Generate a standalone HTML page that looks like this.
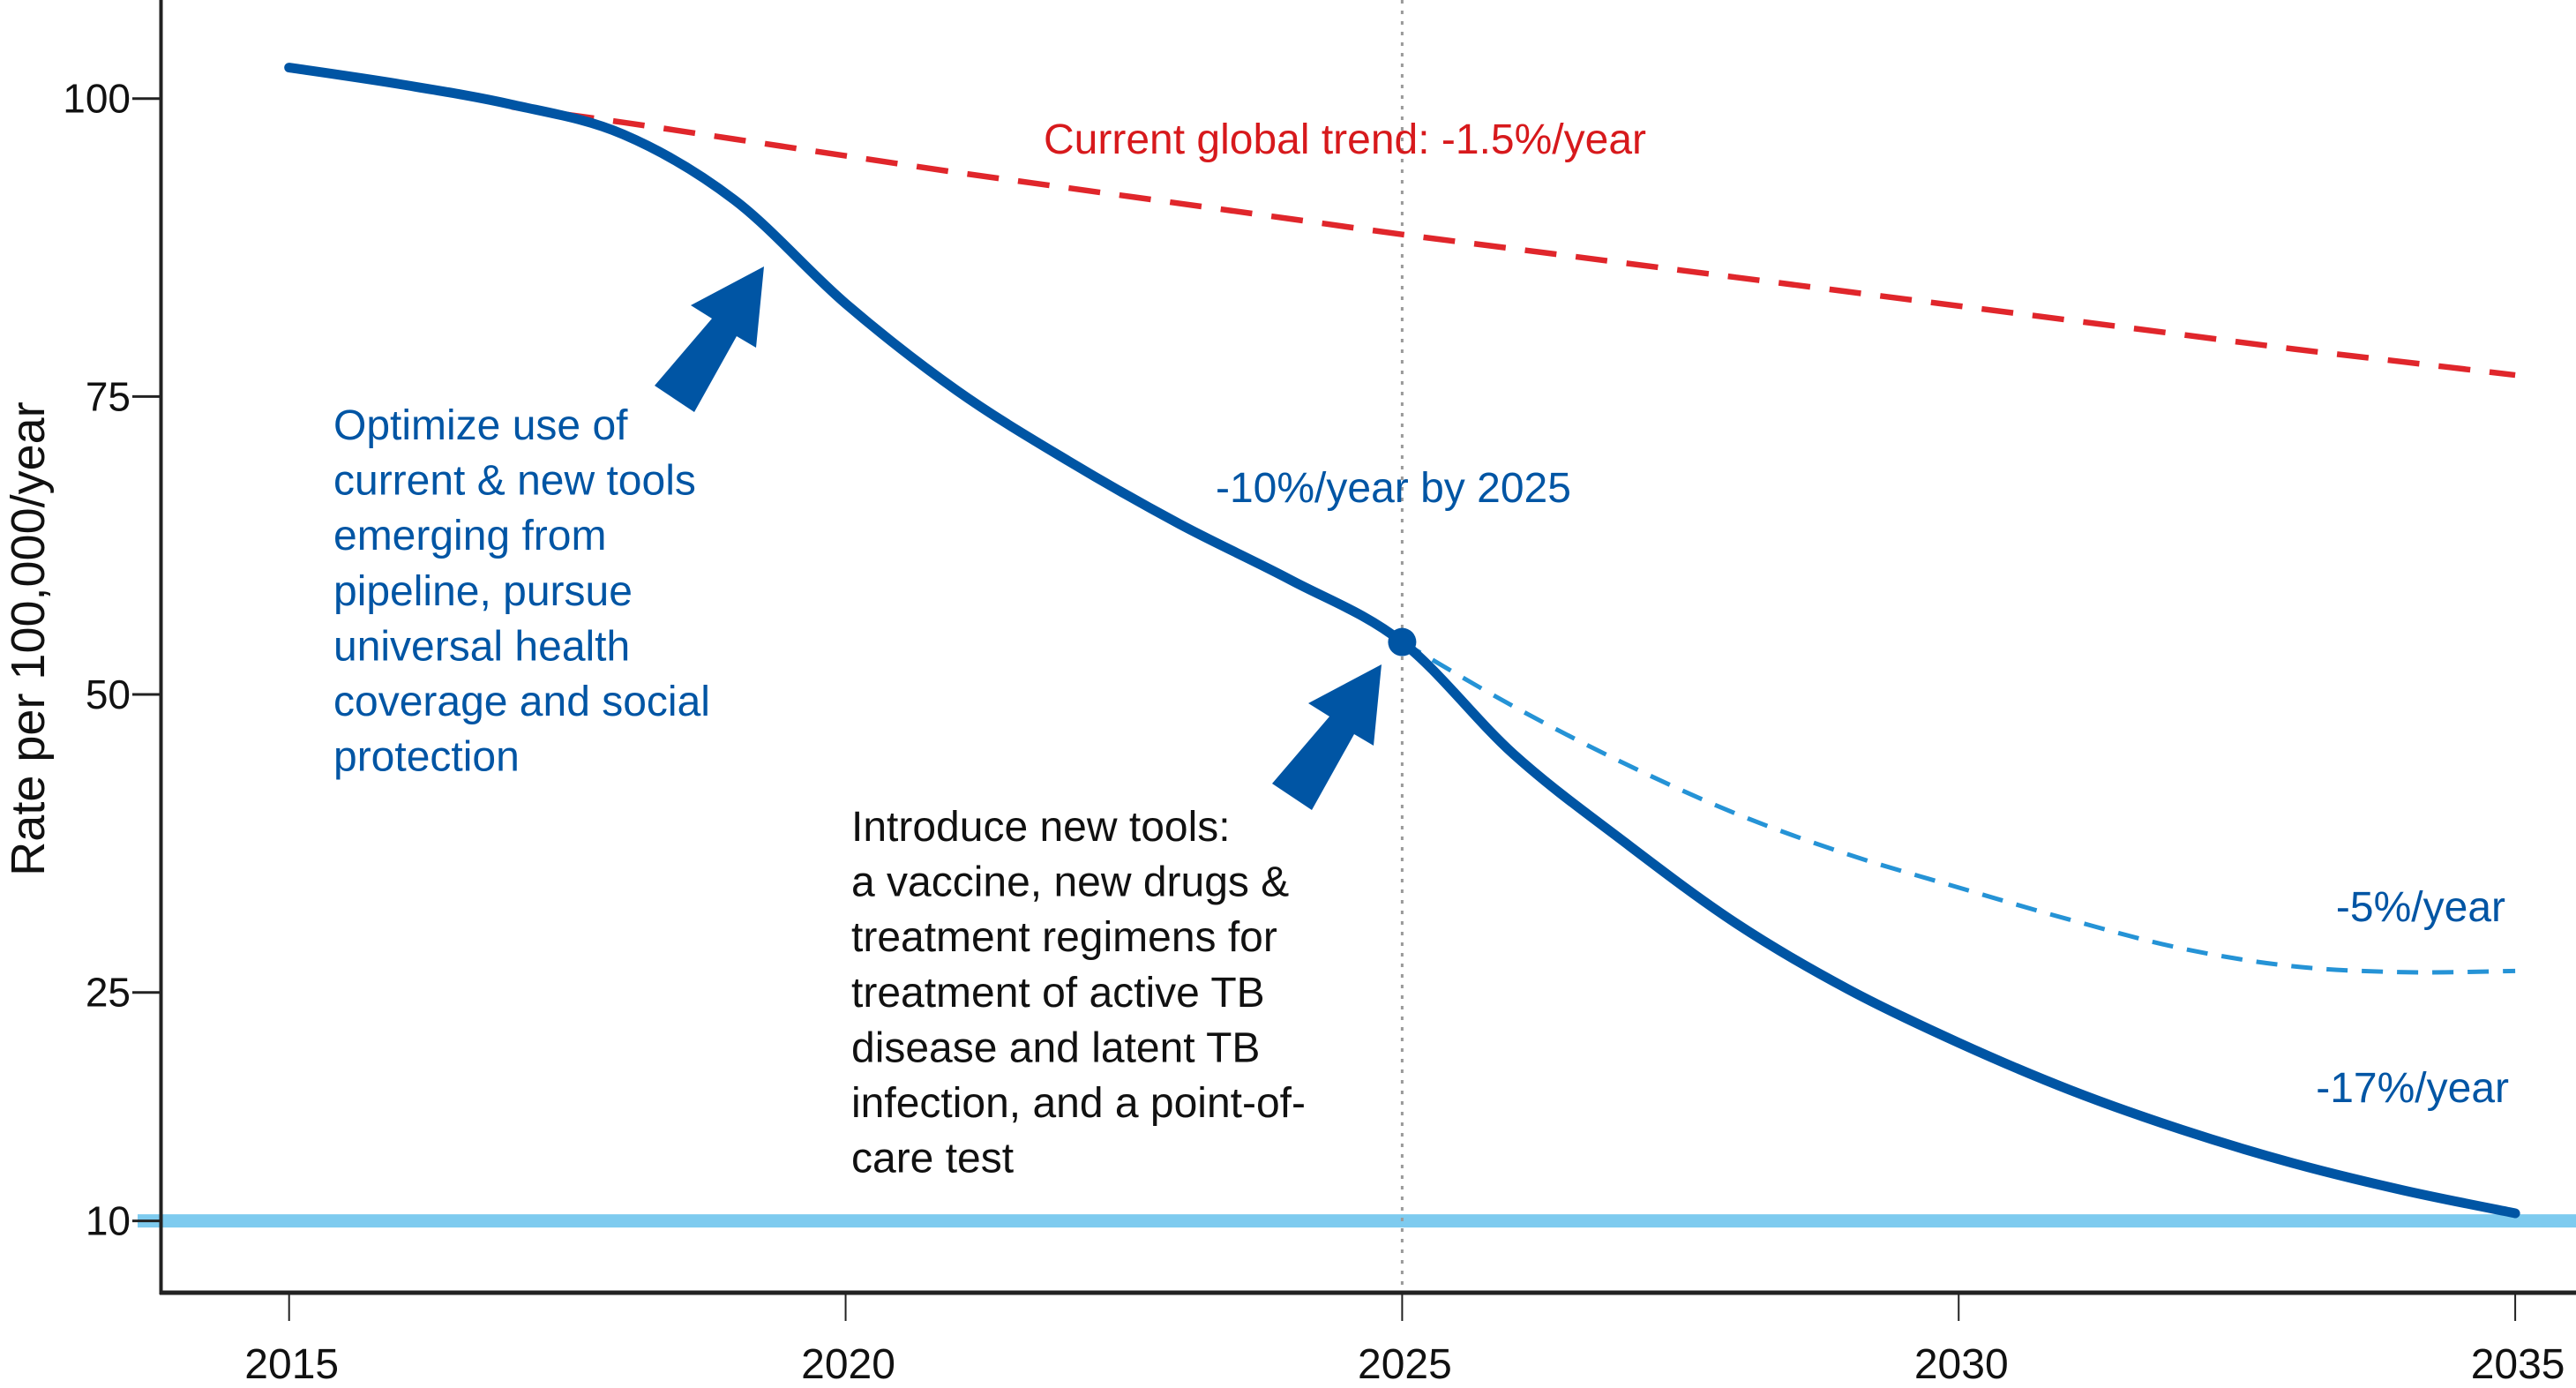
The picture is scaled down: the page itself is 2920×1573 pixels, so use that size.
<!DOCTYPE html>
<html><head><meta charset="utf-8"><style>
html,body{margin:0;padding:0;background:#fff;}
svg{display:block;font-family:"Liberation Sans",Arial,sans-serif;}
</style></head><body>
<svg id="chart" width="2920" height="1573" viewBox="0 0 2920 1573" xmlns="http://www.w3.org/2000/svg">
<g id="g"></g>
</svg>
<script>
const years = [2015,2016,2017,2018,2019,2020,2021,2022,2023,2024,2025,2026,2027,2028,2029,2030,2031,2032,2033,2034,2035];
const targetPath = [102.6,101.2,99.5,97.0,91.5,82.8,75.5,69.6,64.3,59.6,54.4,45.0,37.6,30.8,25.3,21.7,18.6,16.0,13.8,12.0,10.5];
const trendYears = [2017,2018,2019,2020,2021,2022,2023,2024,2025,2026,2027,2028,2029,2030,2031,2032,2033,2034,2035];
const trendValues = [99.3,98.0,96.6,95.2,93.8,92.5,91.2,89.9,88.6,87.4,86.2,85.0,83.8,82.6,81.4,80.2,79.0,77.9,76.8];
const slowYears = [2025,2026,2027,2028,2029,2030,2031,2032,2033,2034,2035];
const slowValues = [54.4,49,44.2,40,36.6,33.8,31.1,28.7,27.2,26.7,26.8];
const yTicks = [100,75,50,25,10];
const xTicks = [2015,2020,2025,2030,2035];
const milestoneYear = 2025, milestoneValue = 54.4, targetLevel = 10;

const NS="http://www.w3.org/2000/svg";
const g=document.getElementById('g');
function x(yr){return 327.7+(yr-2015)*126.17;}
function y(v){ if(v>=25) return 111.7+(100-v)*13.507; return 1383.6-(v-10)*(1383.6-1124.8)/15; }
function el(tag,attrs,parent){const e=document.createElementNS(NS,tag);for(const k in attrs)e.setAttribute(k,attrs[k]);(parent||g).appendChild(e);return e;}
function smooth(xs,vs){const p=xs.map((a,i)=>[x(a),y(vs[i])]);let d='M'+p[0][0]+','+p[0][1];
 for(let i=0;i<p.length-1;i++){const p0=p[i-1]||p[i],p1=p[i],p2=p[i+1],p3=p[i+2]||p2;
 d+=' C'+(p1[0]+(p2[0]-p0[0])/6)+','+(p1[1]+(p2[1]-p0[1])/6)+' '+(p2[0]-(p3[0]-p1[0])/6)+','+(p2[1]-(p3[1]-p1[1])/6)+' '+p2[0]+','+p2[1];}return d;}

let e=el('line',{x1:156,x2:2920,y1:y(targetLevel),y2:y(targetLevel),stroke:'#7ecbef','stroke-width':15});


e=el('line',{x1:x(milestoneYear),x2:x(milestoneYear),y1:0,y2:1465,stroke:'#9a9a9a','stroke-width':3,'stroke-dasharray':'4,8'});


e=el('line',{x1:182.5,x2:182.5,y1:0,y2:1467,stroke:'#222','stroke-width':4});


e=el('line',{x1:181,x2:2920,y1:1465,y2:1465,stroke:'#222','stroke-width':5});


yTicks.forEach(v=>{
 const t=el('line',{x1:150,x2:182,y1:y(v),y2:y(v),stroke:'#222','stroke-width':3});
 
 
 const l=el('text',{x:148,y:y(v)+16,'text-anchor':'end','font-size':46,fill:'#111'});l.textContent=v;
 
 
});
xTicks.forEach(v=>{
 const t=el('line',{x1:x(v),x2:x(v),y1:1465,y2:1497,stroke:'#222','stroke-width':2});
 
 
 const l=el('text',{x:x(v)+3,y:1562,'text-anchor':'middle','font-size':48,fill:'#111'});l.textContent=v;
 
 
});
e=el('text',{x:0,y:0,transform:'translate(50,724) rotate(-90)','text-anchor':'middle','font-size':54,fill:'#111'});e.textContent='Rate per 100,000/year';



e=el('path',{d:smooth(trendYears,trendValues),fill:'none',stroke:'#e0262b','stroke-width':6.5,'stroke-dasharray':'36,22'});


e=el('path',{d:smooth(slowYears,slowValues),fill:'none',stroke:'#2593d6','stroke-width':5,'stroke-dasharray':'24,16'});


e=el('path',{d:smooth(years,targetPath),fill:'none',stroke:'#0055a4','stroke-width':11,'stroke-linecap':'round'});


e=el('circle',{cx:x(milestoneYear),cy:y(milestoneValue),r:16,fill:'#0055a4'});



function arrow(tx,ty,name){const rel=[[0,0],[-9,92],[-31,79],[-79,165],[-124,135],[-59,59],[-83,44]];
 const a=el('polygon',{points:rel.map(p=>(tx+p[0])+','+(ty+p[1])).join(' '),fill:'#0055a4'});
 
 }
arrow(866,302,'arrow-optimize');
arrow(1566,753,'arrow-new-tools');

function block(lines,x0,y0,lh,color,name,anchor){const t=el('text',{x:x0,y:y0,'font-size':48,fill:color,'text-anchor':anchor||'start'});
 lines.forEach((s,i)=>{const ts=el('tspan',{x:x0,dy:i?lh:0},t);ts.textContent=s;});
 
 }
block(['Current global trend: -1.5%/year'],1183,174,0,'#d7191c','current-trend-label');
block(['Optimize use of','current & new tools','emerging from','pipeline, pursue','universal health','coverage and social','protection'],378,498,62.6,'#0055a4','optimize-annotation');
block(['Introduce new tools:','a vaccine, new drugs &','treatment regimens for','treatment of active TB','disease and latent TB','infection, and a point-of-','care test'],965,953,62.6,'#111','new-tools-annotation');
block(['-10%/year by 2025'],1378,569,0,'#0055a4','minus-10-label');
block(['-5%/year'],2840,1044,0,'#0055a4','minus-5-label','end');
block(['-17%/year'],2844,1249,0,'#0055a4','minus-17-label','end');
</script>
</body></html>
